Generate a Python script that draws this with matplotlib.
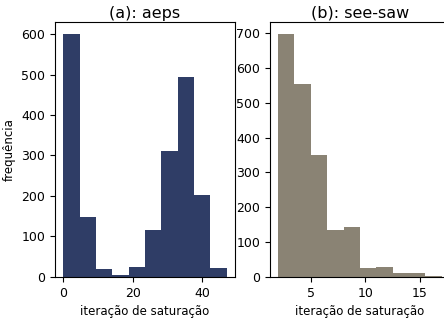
import numpy as np
import matplotlib
matplotlib.use("Agg")
import matplotlib.pyplot as plt

# (a) aeps: 10 bins between 0 and 47
aeps_edges = np.linspace(0, 47, 11)
aeps_counts = [600, 148, 20, 5, 25, 117, 310, 493, 203, 22]

# (b) see-saw: 10 bins between 2 and 17
seesaw_edges = np.linspace(2, 17, 11)
seesaw_counts = [697, 553, 350, 135, 142, 25, 28, 10, 10, 3]

fig = plt.figure(figsize=(4.44, 3.22), dpi=100)
ax1 = fig.add_axes([0.124, 0.140, 0.405, 0.792])
ax2 = fig.add_axes([0.608, 0.140, 0.405, 0.792])

ax1.hist(aeps_edges[:-1], bins=aeps_edges, weights=aeps_counts, color="#2f3d66")
ax1.set_title("(a): aeps", fontsize=11.5, pad=3)
ax1.set_xlabel("iteração de saturação", fontsize=8.5)
ax1.set_ylabel("frequência", fontsize=8.5)

ax2.hist(seesaw_edges[:-1], bins=seesaw_edges, weights=seesaw_counts, color="#8a8374")
ax2.set_title("(b): see-saw", fontsize=11.5, pad=3)
ax2.set_xlabel("iteração de saturação", fontsize=8.5)

for ax in (ax1, ax2):
    ax.tick_params(labelsize=9)

fig.savefig("out.png", dpi=100)
